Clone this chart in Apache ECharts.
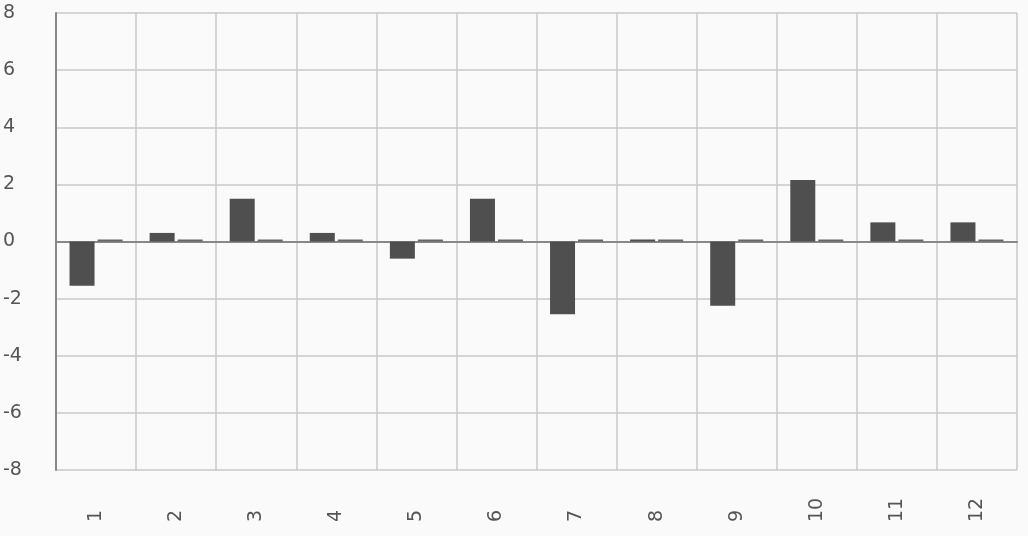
<!DOCTYPE html>
<html>
<head>
<meta charset="utf-8">
<script src="https://cdn.jsdelivr.net/npm/echarts@6/dist/echarts.min.js"></script>
<style>
  html, body { margin: 0; padding: 0; background: #fafafa; }
  #chart { width: 1028px; height: 536px; }
</style>
</head>
<body>
<div id="chart"></div>
<script>
// 数据
const categories = ['1', '2', '3', '4', '5', '6', '7', '8', '9', '10', '11', '12'];
const seriesA = [-1.55, 0.3, 1.5, 0.3, -0.6, 1.5, -2.55, 0, -2.25, 2.15, 0.67, 0.67];
const seriesB = [0, 0, 0, 0, 0, 0, 0, 0, 0, 0, 0, 0];

const myChart = echarts.init(document.getElementById('chart'));
myChart.setOption({
  backgroundColor: '#fafafa',
  animation: false,
  grid: { left: 56, right: 11, top: 13, bottom: 66 },
  xAxis: {
    type: 'category',
    data: categories,
    axisLine: { lineStyle: { color: '#888', width: 2 } },
    axisTick: { show: false },
    splitLine: { show: true, lineStyle: { color: '#c8c8c8', width: 1.5 } },
    axisLabel: {
      rotate: 90,
      align: 'left',
      margin: 52,
      color: '#555',
      fontSize: 19,
      fontFamily: 'DejaVu Sans'
    }
  },
  yAxis: {
    type: 'value',
    min: -8,
    max: 8,
    interval: 2,
    axisLine: { show: true, lineStyle: { color: '#888', width: 2 } },
    axisTick: { show: false },
    splitLine: { lineStyle: { color: '#c8c8c8', width: 1.5 } },
    axisLabel: {
      align: 'left',
      margin: 53,
      color: '#555',
      fontSize: 19,
      fontFamily: 'DejaVu Sans'
    }
  },
  series: [
    {
      type: 'bar',
      data: seriesA,
      barWidth: 25,
      barGap: '12%',
      barMinHeight: 2,
      itemStyle: { color: '#4f4f4f' }
    },
    {
      type: 'bar',
      data: seriesB,
      barWidth: 25,
      barMinHeight: 2,
      itemStyle: { color: '#666' }
    }
  ]
});
</script>
</body>
</html>
